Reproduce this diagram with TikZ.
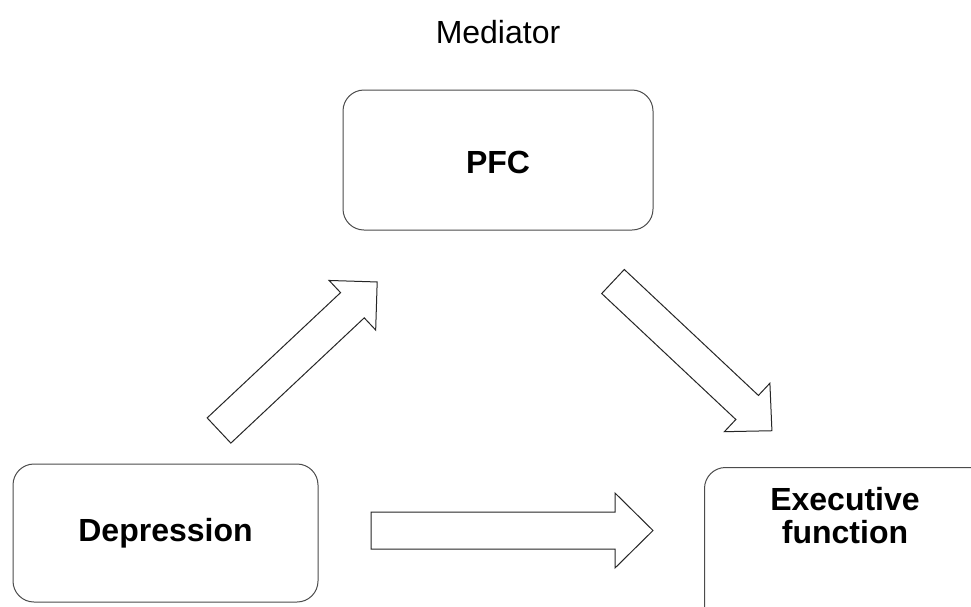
\documentclass[tikz,border=0pt]{standalone}
\usepackage{fontspec}
\setmainfont{Liberation Sans}
\begin{document}
\begin{tikzpicture}[x=1pt,y=-1pt,
  box/.style={draw=black!70,line width=1pt,rounded corners=21pt,fill=white,inner sep=0pt},
  lbl/.style={font=\fontsize{32}{33}\selectfont\bfseries,align=center,inner sep=0pt},
  arrowline/.style={draw=black!85,line width=1pt,fill=white,line join=miter},
  pics/blockarrow/.style args={#1/#2/#3/#4}{code={
    \draw[arrowline] (0,{-#2/2}) -- ({#1-#4},{-#2/2}) -- ({#1-#4},{-#3/2}) -- (#1,0)
      -- ({#1-#4},{#3/2}) -- ({#1-#4},{#2/2}) -- (0,{#2/2}) -- cycle;
  }}]
\clip (0,0) rectangle (971,606);
\fill[white] (0,0) rectangle (971,606);
% title
\node[font=\fontsize{32}{34}\selectfont,inner sep=0pt] (med) at (498,32) {Mediator};
% boxes
\node[box,minimum width=310pt,minimum height=140pt] (pfc) at (498,160) {};
\node[lbl] (pfct) at (498,162.5) {PFC};
\node[box,minimum width=305pt,minimum height=138pt] (dep) at (165.5,533) {};
\node[lbl] (dept) at (165.5,533) {Depression};
\node[box,minimum width=290pt,minimum height=170pt,anchor=north west] (exec) at (704,467) {};
\node[lbl] (exect) at (845,516) {Executive\\function};
% block arrows
\pic[rotate=43.2] at (219,430.5) {blockarrow={217/34.6/68/34}};
\pic[rotate=-43.2] at (613,281.5) {blockarrow={218/33/66.5/34}};
\pic at (371,530.5) {blockarrow={282/37/75/38}};
\end{tikzpicture}
\end{document}
